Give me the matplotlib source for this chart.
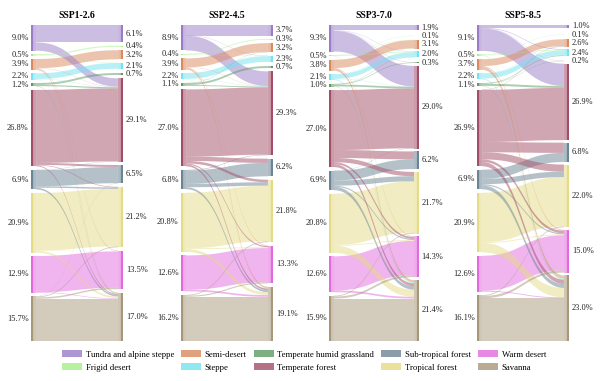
import numpy as np
import matplotlib.pyplot as plt
from matplotlib.patches import Patch

plt.rcParams['font.family'] = ['Liberation Serif', 'DejaVu Serif']

CLASSES = ["Tundra and alpine steppe", "Frigid desert", "Semi-desert", "Steppe",
           "Temperate humid grassland", "Temperate forest", "Sub-tropical forest",
           "Tropical forest", "Warm desert", "Savanna"]
CODES = ["TU", "FD", "SD", "ST", "TG", "TF", "SF", "RF", "WD", "SV"]
COLORS = ["#9a7cc9", "#a6ef88", "#da8a5e", "#74e3ef", "#5c9c60",
          "#a34e68", "#6b8594", "#e5db84", "#e36ade", "#a8987a"]

SCENARIOS = ["SSP1-2.6", "SSP2-4.5", "SSP3-7.0", "SSP5-8.5"]

# shares (%) written beside the nodes
left_pct = [
    [9.0, 0.5, 3.9, 2.2, 1.2, 26.8, 6.9, 20.9, 12.9, 15.7],
    [8.9, 0.4, 3.9, 2.2, 1.1, 27.0, 6.8, 20.8, 12.6, 16.2],
    [9.3, 0.5, 3.8, 2.1, 1.0, 27.0, 6.9, 20.8, 12.6, 15.9],
    [9.1, 0.5, 3.7, 2.2, 1.1, 26.9, 6.9, 20.9, 12.6, 16.1],
]
right_pct = [
    [6.1, 0.4, 3.2, 2.1, 0.7, 29.1, 6.5, 21.2, 13.5, 17.0],
    [3.7, 0.3, 3.2, 2.3, 0.7, 29.3, 6.2, 21.8, 13.3, 19.1],
    [1.9, 0.1, 3.1, 2.0, 0.3, 29.0, 6.2, 21.7, 14.3, 21.4],
    [1.0, 0.1, 2.6, 2.4, 0.2, 26.9, 6.8, 22.0, 15.0, 23.0],
]

# transitions (from, to, % of area), estimated from the band widths
flows_ssp126 = [
    ("TU", "TU", 6.1), ("TU", "TF", 2.9),
    ("FD", "FD", 0.4), ("FD", "ST", 0.1),
    ("SD", "SD", 3.2), ("SD", "TF", 0.1), ("SD", "WD", 0.2), ("SD", "SV", 0.3),
    ("ST", "ST", 2.0), ("ST", "TF", 0.1), ("ST", "SV", 0.1),
    ("TG", "TG", 0.7), ("TG", "TF", 0.4), ("TG", "SV", 0.1),
    ("TF", "TF", 25.6), ("TF", "SF", 0.7), ("TF", "RF", 0.2), ("TF", "SV", 0.3),
    ("SF", "SF", 5.7), ("SF", "TF", 0.1), ("SF", "RF", 0.5), ("SF", "SV", 0.6),
    ("RF", "RF", 20.2), ("RF", "WD", 0.1), ("RF", "SV", 0.6),
    ("WD", "WD", 12.7), ("WD", "SV", 0.2),
    ("SV", "SV", 14.8), ("SV", "SF", 0.1), ("SV", "RF", 0.3), ("SV", "WD", 0.5),
]
flows_ssp245 = [
    ("TU", "TU", 3.7), ("TU", "ST", 0.1), ("TU", "TF", 5.1),
    ("FD", "FD", 0.3), ("FD", "ST", 0.1),
    ("SD", "SD", 3.1), ("SD", "TF", 0.1), ("SD", "WD", 0.2), ("SD", "SV", 0.5),
    ("ST", "ST", 2.0), ("ST", "TF", 0.1), ("ST", "SV", 0.1),
    ("TG", "SD", 0.1), ("TG", "TG", 0.7), ("TG", "TF", 0.3),
    ("TF", "TF", 23.6), ("TF", "SF", 1.5), ("TF", "RF", 0.9), ("TF", "WD", 0.4), ("TF", "SV", 0.6),
    ("SF", "TF", 0.2), ("SF", "SF", 4.7), ("SF", "RF", 1.2), ("SF", "SV", 0.7),
    ("RF", "RF", 19.5), ("RF", "WD", 0.3), ("RF", "SV", 1.0),
    ("WD", "WD", 12.0), ("WD", "SV", 0.6),
    ("SV", "SV", 15.5), ("SV", "RF", 0.3), ("SV", "WD", 0.4),
]
flows_ssp370 = [
    ("TU", "TU", 1.9), ("TU", "ST", 0.1), ("TU", "TG", 0.1), ("TU", "TF", 7.2),
    ("FD", "FD", 0.1), ("FD", "SD", 0.1), ("FD", "ST", 0.2), ("FD", "SV", 0.1),
    ("SD", "SD", 2.9), ("SD", "WD", 0.2), ("SD", "SV", 0.7),
    ("ST", "SD", 0.1), ("ST", "ST", 1.6), ("ST", "TF", 0.1), ("ST", "SV", 0.3),
    ("TG", "ST", 0.1), ("TG", "TG", 0.2), ("TG", "TF", 0.6), ("TG", "SV", 0.1),
    ("TF", "TF", 21.0), ("TF", "SF", 2.8), ("TF", "RF", 1.5), ("TF", "WD", 0.7), ("TF", "SV", 1.0),
    ("SF", "TF", 0.1), ("SF", "SF", 3.4), ("SF", "RF", 1.8), ("SF", "WD", 0.4), ("SF", "SV", 1.2),
    ("RF", "RF", 18.0), ("RF", "WD", 0.3), ("RF", "SV", 2.5),
    ("WD", "WD", 12.0), ("WD", "SV", 0.6),
    ("SV", "SV", 14.9), ("SV", "RF", 0.3), ("SV", "WD", 0.7),
]
flows_ssp585 = [
    ("TU", "TU", 1.0), ("TU", "ST", 0.2), ("TU", "TG", 0.1), ("TU", "TF", 7.8),
    ("FD", "FD", 0.1), ("FD", "ST", 0.2), ("FD", "SV", 0.2),
    ("SD", "SD", 2.4), ("SD", "WD", 0.3), ("SD", "SV", 1.0),
    ("ST", "SD", 0.1), ("ST", "ST", 1.8), ("ST", "SV", 0.3),
    ("TG", "ST", 0.2), ("TG", "TG", 0.1), ("TG", "TF", 0.7), ("TG", "SV", 0.1),
    ("TF", "SD", 0.1), ("TF", "TF", 18.3), ("TF", "SF", 3.6), ("TF", "RF", 2.5),
    ("TF", "WD", 0.9), ("TF", "SV", 1.5),
    ("SF", "SF", 3.2), ("SF", "RF", 1.9), ("SF", "WD", 0.4), ("SF", "SV", 1.4),
    ("RF", "RF", 17.3), ("RF", "WD", 0.3), ("RF", "SV", 3.3),
    ("WD", "WD", 12.3), ("WD", "SV", 0.3),
    ("SV", "SV", 15.0), ("SV", "RF", 0.3), ("SV", "WD", 0.8),
]
all_flows = [flows_ssp126, flows_ssp245, flows_ssp370, flows_ssp585]

NODE_W = 0.055
SPAN = 100 + 1.2 * 9
MIN_SEP = 2.9   # keep node labels from running into each other


def column_tops(heights):
    n = len(heights)
    need = [MIN_SEP - (heights[i] + heights[i + 1]) / 2 for i in range(n - 1)]
    lo, hi = 0.0, SPAN
    for _ in range(60):
        g = (lo + hi) / 2
        if sum(heights) + sum(max(g, q) for q in need) > SPAN:
            hi = g
        else:
            lo = g
    gaps = [max(lo, q) for q in need]
    tops, y = [], 0.0
    for i, h in enumerate(heights):
        tops.append(y)
        if i < n - 1:
            y += h + gaps[i]
    return tops


def band(ax, x0, x1, a0, b0, a1, b1, color):
    t = np.linspace(0, 1, 60)
    xm = (x0 + x1) / 2
    x = (1 - t)**3 * x0 + 3 * (1 - t)**2 * t * xm + 3 * (1 - t) * t**2 * xm + t**3 * x1
    s = 3 * t**2 - 2 * t**3
    top = a0 + (a1 - a0) * s
    bot = b0 + (b1 - b0) * s
    ax.fill(np.r_[x, x[::-1]], np.r_[top, bot[::-1]], color=color, alpha=0.5, lw=0)


def draw_sankey(ax, flows, lpct, rpct, title):
    idx = {c: i for i, c in enumerate(CODES)}
    fl = [(idx[a], idx[b], v) for a, b, v in flows]
    n = len(CODES)
    out_h = [sum(v for a, b, v in fl if a == i) for i in range(n)]
    in_h = [sum(v for a, b, v in fl if b == i) for i in range(n)]
    ltop = column_tops(out_h)
    rtop = column_tops(in_h)

    # offsets of each link inside its source / target node
    src_off, tgt_off = {}, {}
    for i in range(n):
        y = ltop[i]
        for a, b, v in sorted([f for f in fl if f[0] == i], key=lambda f: f[1]):
            src_off[(a, b)] = y
            y += v
        y = rtop[i]
        for a, b, v in sorted([f for f in fl if f[1] == i], key=lambda f: f[0]):
            tgt_off[(a, b)] = y
            y += v

    for a, b, v in sorted(fl, key=lambda f: -f[2]):
        y0 = src_off[(a, b)]
        y1 = tgt_off[(a, b)]
        band(ax, NODE_W, 1 - NODE_W, y0, y0 + v, y1, y1 + v, COLORS[a])

    for i in range(n):
        ax.bar(NODE_W / 2, out_h[i], width=NODE_W, bottom=ltop[i],
               color=COLORS[i], alpha=0.55, lw=0)
        ax.plot([0.006, 0.006], [ltop[i], ltop[i] + out_h[i]], color=COLORS[i], lw=1.6,
                solid_capstyle='butt')
        ax.bar(1 - NODE_W / 2, in_h[i], width=NODE_W, bottom=rtop[i],
               color=COLORS[i], alpha=0.55, lw=0)
        ax.plot([0.994, 0.994], [rtop[i], rtop[i] + in_h[i]], color=COLORS[i], lw=1.6,
                solid_capstyle='butt')
        ax.text(-0.025, ltop[i] + out_h[i] / 2, f"{lpct[i]:.1f}%", ha='right', va='center',
                fontsize=6.0, color='#222222')
        ax.text(1.03, rtop[i] + in_h[i] / 2, f"{rpct[i]:.1f}%", ha='left', va='center',
                fontsize=6.0, color='#222222')

    ax.set_xlim(0, 1)
    ax.set_ylim(SPAN, 0)
    ax.axis('off')
    ax.set_title(title, fontsize=7, fontweight='bold', pad=5)


fig = plt.figure(figsize=(6, 3.81), dpi=100)
panel_px = [(31, 123), (181, 273), (329, 419), (477, 569)]
for k in range(4):
    x0, x1 = panel_px[k]
    ax = fig.add_axes([x0 / 600, 1 - 341 / 381, (x1 - x0) / 600, (341 - 25) / 381])
    draw_sankey(ax, all_flows[k], left_pct[k], right_pct[k], SCENARIOS[k])

handles = [Patch(facecolor=c, alpha=0.8, edgecolor='none') for c in COLORS]
fig.legend(handles, CLASSES, loc='center', bbox_to_anchor=(304 / 600, 1 - 361 / 381),
           ncol=5, frameon=False, fontsize=6.3, handlelength=2.3, handleheight=0.8,
           handletextpad=0.4, columnspacing=0.8, labelspacing=0.5, borderpad=0)

fig.savefig("out.png", dpi=100)
